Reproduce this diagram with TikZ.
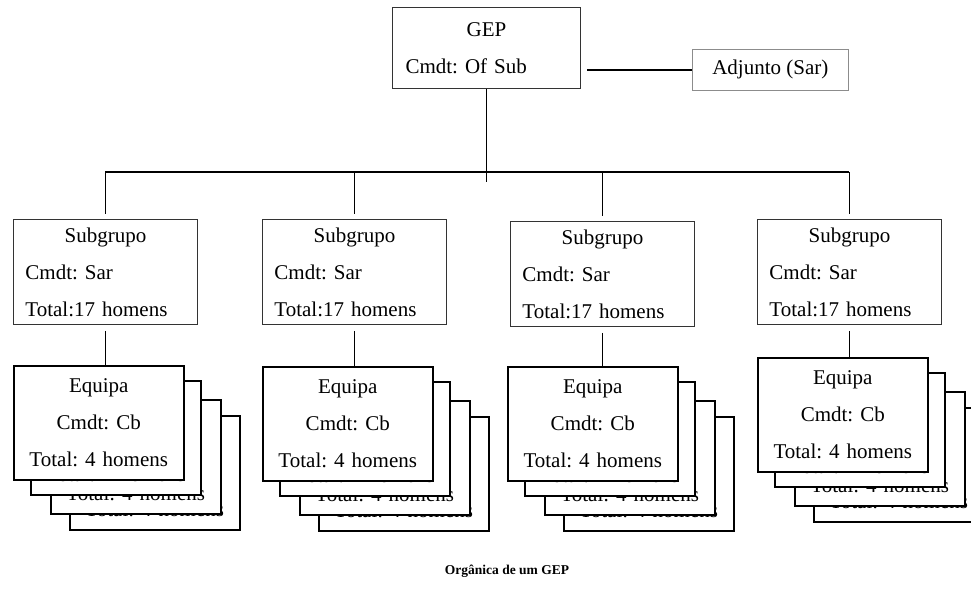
\documentclass[tikz,border=0pt]{standalone}
\usepackage{fontspec}
\setmainfont{Liberation Serif}
\usepackage{tikz}
\usetikzlibrary{calc}
\frenchspacing

\newcommand{\equipatext}{Equipa\\ Cmdt: Cb\\ Total: 4 homens}
\newcommand{\subtext}{\makebox[\linewidth]{Subgrupo}\\ Cmdt: Sar\\ Total:17 homens}
% stack of four team cards, back to front
\newcommand{\equipastack}[3]{%
  \node[equipa] (#1-4) at (#2+56,#3+50) {\equipatext};
  \node[equipa] (#1-3) at (#2+37,#3+34) {\equipatext};
  \node[equipa] (#1-2) at (#2+17,#3+15) {\equipatext};
  \node[equipa] (#1) at (#2,#3) {\equipatext};
}

\begin{document}
\begin{tikzpicture}[
    x=1pt, y=-1pt,
    every node/.style={font=\fontsize{21}{37}\selectfont},
    topbox/.style={rectangle, draw=black!80, line width=1pt, anchor=north west, align=left, text width=162pt, inner xsep=13pt, minimum width=188pt, minimum height=81pt},
    subbox/.style={rectangle, draw=black!80, line width=0.9pt, anchor=north west, align=left, text width=160pt, inner xsep=12pt, minimum width=184pt, minimum height=105pt},
    equipa/.style={rectangle, draw, fill=white, line width=1.5pt, anchor=north west, align=center, text width=160pt, inner xsep=5pt, minimum width=170pt, minimum height=114pt},
    adjbox/.style={rectangle, draw=black!45, line width=0.6pt, anchor=north west, minimum width=156pt, minimum height=41pt},
    link/.style={line width=1.6pt}
]
\useasboundingbox (0,0) rectangle (971,603);

\node[topbox] (gep) at (392,7) {\makebox[\linewidth]{GEP}\\ Cmdt: Of Sub};
\node[adjbox] (adj) at (692,49) {Adjunto (Sar)};
\coordinate (bar) at (486,172);

\node[subbox] (sub1) at (13,219) {\subtext};
\node[subbox] (sub2) at (262,219) {\subtext};
\node[subbox] (sub3) at (510,221) {\subtext};
\node[subbox] (sub4) at (757,219) {\subtext};

\equipastack{eq1}{13}{365}
\equipastack{eq2}{262}{366}
\equipastack{eq3}{507}{366}
\equipastack{eq4}{757}{357}

\node[font=\bfseries\fontsize{13.5}{16}\selectfont] (caption) at (507,571) {Orgânica de um GEP};

\draw[link, shorten <=6pt] (gep.east |- adj.west) -- (adj.west);
\draw[line width=1.3pt] (gep.south) -- ($(gep.south |- bar)+(0,10)$);
\draw[link] (bar -| sub1.north) -- (bar -| sub4.north);
\draw[link, shorten >=5pt] (bar -| sub1.north) -- (sub1.north);
\draw[link, shorten >=5pt] (bar -| sub2.north) -- (sub2.north);
\draw[link, shorten >=5pt] (bar -| sub3.north) -- (sub3.north);
\draw[link, shorten >=5pt] (bar -| sub4.north) -- (sub4.north);
\draw[link, shorten <=6pt] (sub1.south) -- (sub1.south |- eq1.north);
\draw[link, shorten <=6pt] (sub2.south) -- (sub2.south |- eq2.north);
\draw[link, shorten <=6pt] (sub3.south) -- (sub3.south |- eq3.north);
\draw[link, shorten <=6pt] (sub4.south) -- (sub4.south |- eq4.north);
\end{tikzpicture}
\end{document}
